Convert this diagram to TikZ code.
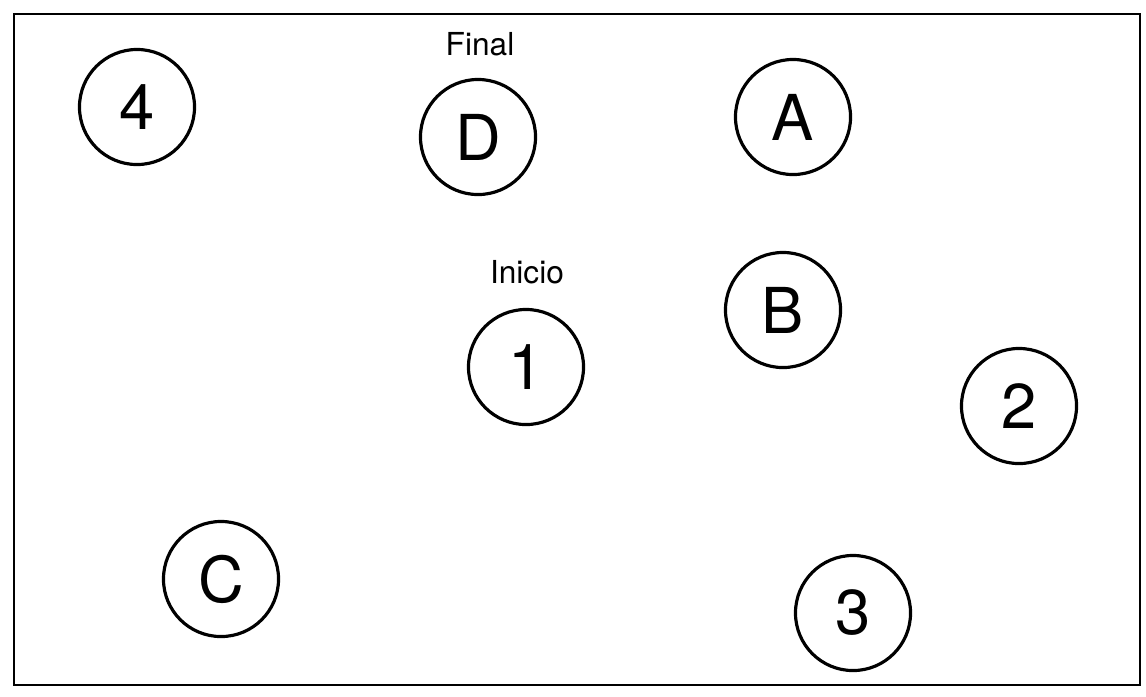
\documentclass[tikz,border=0pt]{standalone}
\usepackage{fontspec}
\setmainfont{TeX Gyre Heros}
\begin{document}
\begin{tikzpicture}[x=0.01cm,y=-0.01cm,
  circ/.style={circle,draw,line width=0.9pt,minimum size=1.15cm,inner sep=0pt,font=\fontsize{18}{20}\selectfont},
  lbl/.style={inner sep=0pt,font=\fontsize{9}{11}\selectfont}]
\useasboundingbox (0,0) rectangle (1146,696);
\draw[line width=0.8pt] (14,14) rectangle (1140,685);
\node[circ] (n4) at (137,107) {4};
\node[circ] (nD) at (478,137) {D};
\node[circ] (nA) at (793,117) {A};
\node[circ] (nB) at (783,310) {B};
\node[circ] (n1) at (526,367) {1};
\node[circ] (n2) at (1019,406) {2};
\node[circ] (nC) at (221,579) {C};
\node[circ] (n3) at (853,613) {3};
\node[lbl] (final) at (480,44) {Final};
\node[lbl] (inicio) at (527,272) {Inicio};
\end{tikzpicture}
\end{document}
